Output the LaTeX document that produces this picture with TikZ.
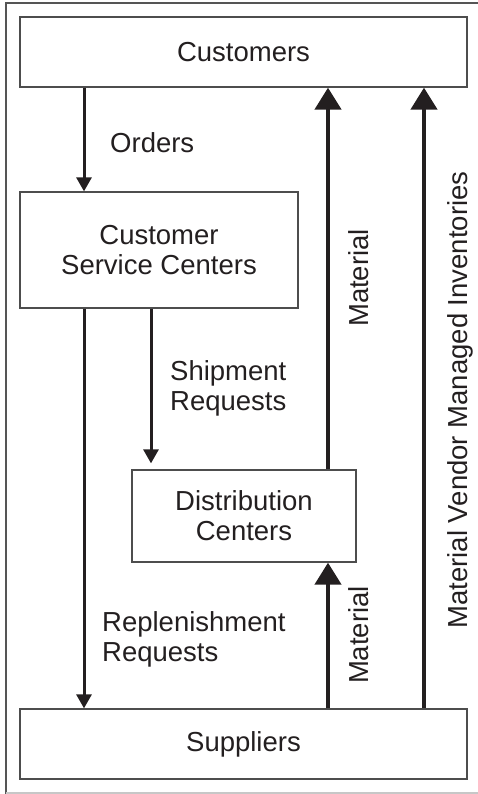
\documentclass[tikz,border=0pt]{standalone}
\usepackage{fontspec}
\setmainfont{Liberation Sans}
\usetikzlibrary{arrows.meta,positioning,calc}
\definecolor{ink}{HTML}{231F20}
\definecolor{edge}{HTML}{4D4D4D}
\definecolor{frameline}{HTML}{555555}
\tikzset{
  every node/.style={font=\fontsize{27.5}{30}\selectfont,text=ink},
  box/.style={draw=edge,line width=1.3pt,fill=white,align=center,inner sep=0},
  uparr/.style={-{Triangle[width=26pt,length=22pt]},line width=4.4pt,draw=ink},
  dnarr/.style={-{Triangle[width=15pt,length=14pt]},line width=3pt,draw=ink},
  flowlabel/.style={align=left,inner sep=0},
  sidelabel/.style={rotate=90,anchor=base,inner sep=0}
}
\begin{document}
\begin{tikzpicture}[x=1pt,y=-1pt]
  \path[use as bounding box] (0,0) rectangle (478,794);
  \draw[frameline,line width=1.4pt] (6,794) -- (6,3) -- (478,3);
  \draw[black!22,line width=1.4pt] (6,793) -- (478,793);

  \node[box,minimum width=447pt,minimum height=70pt] (cust) at (243.5,52) {Customers};
  \node[box,minimum width=278pt,minimum height=116pt] (csc) at (159,250) {Customer\\Service Centers};
  \node[box,minimum width=224pt,minimum height=92pt] (dc) at (244,516) {Distribution\\Centers};
  \node[box,minimum width=447pt,minimum height=70pt] (supp) at (243.5,744) {Suppliers};

  \coordinate (c1) at (84,0);
  \coordinate (c2) at (151,0);
  \coordinate (c3) at (328,0);
  \coordinate (c4) at (424,0);

  \draw[dnarr] (cust.south -| c1) -- (csc.north -| c1);
  \draw[dnarr] (csc.south -| c1) -- (supp.north -| c1);
  \draw[dnarr,shorten >=6pt] (csc.south -| c2) -- (dc.north -| c2);
  \draw[uparr] (dc.north -| c3) -- (cust.south -| c3);
  \draw[uparr] (supp.north -| c3) -- (dc.south -| c3);
  \draw[uparr] (supp.north -| c4) -- (cust.south -| c4);

  \node[flowlabel,anchor=base west] (orders) at (110,153) {Orders};
  \node[flowlabel,anchor=west] (shipreq) at (170,388) {Shipment\\Requests};
  \node[flowlabel,anchor=west] (replreq) at (102,639) {Replenishment\\Requests};
  \node[sidelabel] (matup) at (368,278) {Material};
  \node[sidelabel] (matlow) at (368,635) {Material};
  \node[sidelabel] (vmi) at (467,400) {Material Vendor Managed Inventories};
\end{tikzpicture}
\end{document}
